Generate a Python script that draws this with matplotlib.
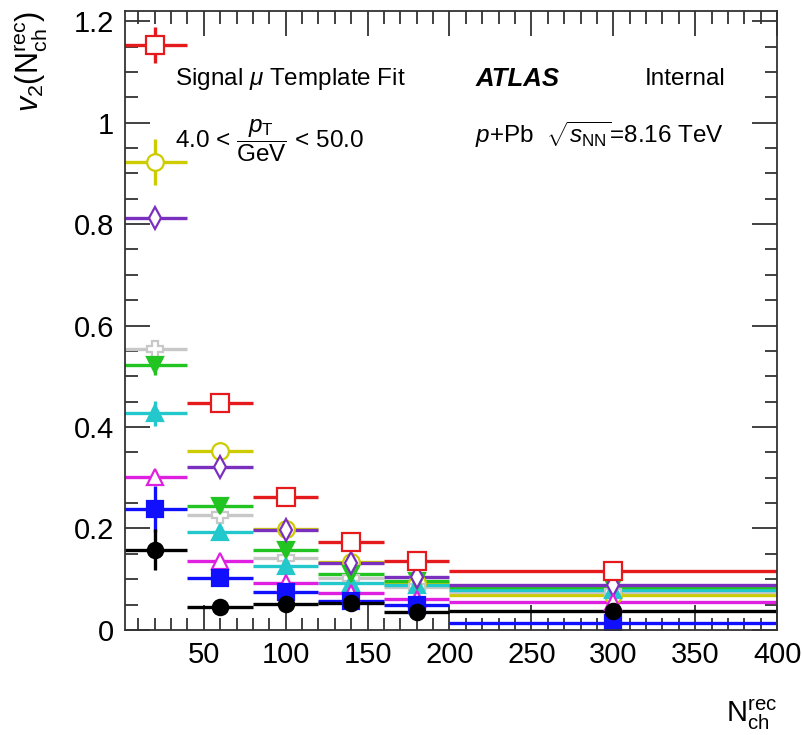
import numpy as np
import matplotlib
matplotlib.use("Agg")
import matplotlib.pyplot as plt
from matplotlib.ticker import MultipleLocator

plt.rcParams['font.family'] = ['Liberation Sans', 'DejaVu Sans']
plt.rcParams['mathtext.fontset'] = 'custom'
plt.rcParams['mathtext.rm'] = 'Liberation Sans'
plt.rcParams['mathtext.it'] = 'Liberation Sans:italic'
plt.rcParams['mathtext.bf'] = 'Liberation Sans:bold'

# bins in N_ch^rec
bin_lo = np.array([0, 40, 80, 120, 160, 200])
bin_hi = np.array([40, 80, 120, 160, 200, 400])

# v2 values per series
red_v = [1.153, 0.447, 0.262, 0.174, 0.136, 0.117]
red_e = [0.036, 0.008, 0.008, 0.007, 0.006, 0.006]
yel_v = [0.922, 0.353, 0.199, 0.133, 0.092, 0.068]
yel_e = [0.045, 0.008, 0.006, 0.005, 0.005, 0.005]
pur_v = [0.812, 0.321, 0.196, 0.132, 0.104, 0.088]
pur_e = [0.010, 0.006, 0.005, 0.005, 0.005, 0.005]
gry_v = [0.553, 0.227, 0.142, 0.102, 0.085, 0.075]
gry_e = [0.010, 0.008, 0.006, 0.006, 0.006, 0.006]
grn_v = [0.522, 0.244, 0.158, 0.110, 0.097, 0.084]
grn_e = [0.020, 0.010, 0.010, 0.010, 0.008, 0.008]
cyn_v = [0.427, 0.192, 0.126, 0.092, 0.088, 0.078]
cyn_e = [0.025, 0.008, 0.012, 0.012, 0.010, 0.008]
mag_v = [0.302, 0.136, 0.092, 0.073, 0.061, 0.055]
mag_e = [0.010, 0.006, 0.008, 0.008, 0.008, 0.008]
blu_v = [0.238, 0.102, 0.075, 0.057, 0.049, 0.014]
blu_e = [0.045, 0.006, 0.006, 0.006, 0.006, 0.006]
blk_v = [0.158, 0.045, 0.051, 0.054, 0.035, 0.038]
blk_e = [0.040, 0.006, 0.008, 0.006, 0.006, 0.006]

# drawing order: first drawn ends up underneath
series = [
    (yel_v, yel_e, '#cccc00', 'o', 'open', 12),
    (gry_v, gry_e, '#c8c8c8', 'P', 'open', 12),
    (cyn_v, cyn_e, '#22c8cc', '^', 'full', 11),
    (grn_v, grn_e, '#22c422', 'v', 'full', 11),
    (pur_v, pur_e, '#7b2fbe', 'd', 'open', 11),
    (mag_v, mag_e, '#e020e0', '^', 'open', 12),
    (blu_v, blu_e, '#1010ff', 's', 'full', 11),
    (blk_v, blk_e, '#000000', 'o', 'full', 11),
    (red_v, red_e, '#e41a1c', 's', 'open', 13),
]

x = (bin_lo + bin_hi) / 2
xerr = (bin_hi - bin_lo) / 2

fig = plt.figure(figsize=(8.02, 7.35), dpi=100)
ax = fig.add_axes([0.156, 0.143, 0.813, 0.842])

for v, e, c, m, fill, ms in series:
    face = 'white' if fill == 'open' else c
    ax.errorbar(x, v, xerr=xerr, yerr=e, fmt=m, color=c, mfc=face, mec=c,
                ms=ms, mew=1.6, elinewidth=2.4, capsize=0)

ax.set_xlim(2, 400)
ax.set_ylim(0, 1.22)
ax.xaxis.set_major_locator(MultipleLocator(50))
ax.xaxis.set_minor_locator(MultipleLocator(10))
ax.yaxis.set_major_locator(MultipleLocator(0.2))
ax.yaxis.set_minor_locator(MultipleLocator(0.05))
ax.set_xticks([50, 100, 150, 200, 250, 300, 350, 400])
ax.set_yticks([0, 0.2, 0.4, 0.6, 0.8, 1.0, 1.2])
ax.set_yticklabels(['0', '0.2', '0.4', '0.6', '0.8', '1', '1.2'])
ax.tick_params(which='both', direction='in', top=True, right=True, width=1.3,
               labelsize=21, color='#333333')
ax.tick_params(which='major', length=18, pad=8)
ax.tick_params(which='minor', length=9)
for s in ax.spines.values():
    s.set_linewidth(1.3)
    s.set_color('#333333')

ax.set_ylabel(r"$v_2$(N$_{\mathrm{ch}}^{\mathrm{rec}}$)", fontsize=22, loc='top')
ax.yaxis.set_label_coords(-0.115, 1.0)
ax.set_xlabel(r"N$_{\mathrm{ch}}^{\mathrm{rec}}$", fontsize=21, loc='right')
ax.xaxis.set_label_coords(1.0, -0.11)

ax.text(0.077, 0.89, r"Signal $\mu$ Template Fit", transform=ax.transAxes,
        fontsize=17.5, va='center')
ax.text(0.077, 0.79, r"4.0 < $\dfrac{p_{\mathrm{T}}}{\mathrm{GeV}}$ < 50.0",
        transform=ax.transAxes, fontsize=17.5, va='center')
ax.text(0.537, 0.89, "ATLAS", transform=ax.transAxes, fontsize=18.5,
        fontweight='bold', fontstyle='italic', va='center')
ax.text(0.797, 0.89, "Internal", transform=ax.transAxes, fontsize=17.5, va='center')
ax.text(0.537, 0.8, r"$p$+Pb  $\sqrt{s_{\mathrm{NN}}}$=8.16 TeV",
        transform=ax.transAxes, fontsize=17.5, va='center')

fig.savefig("out.png", dpi=100)
